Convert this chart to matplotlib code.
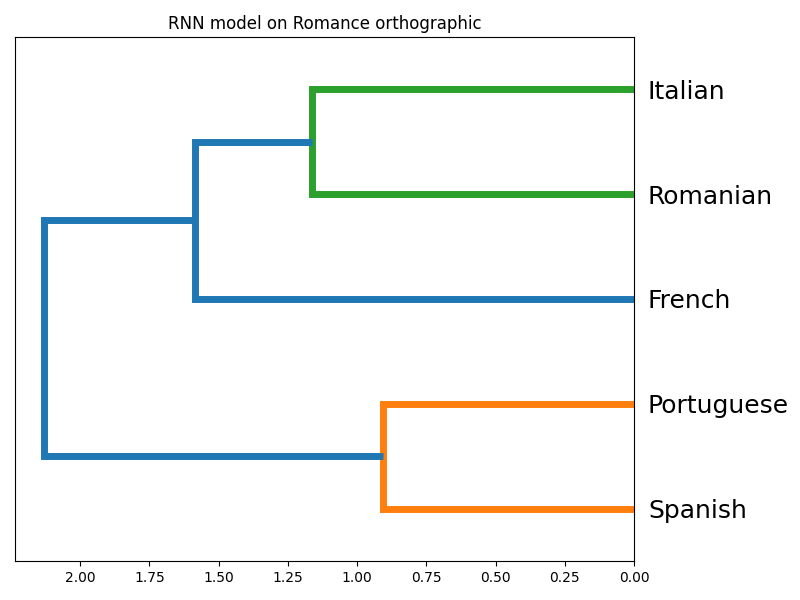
import matplotlib.pyplot as plt

# leaves bottom to top
leaves = ["Spanish", "Portuguese", "French", "Romanian", "Italian"]
leaf_y = [5, 15, 25, 35, 45]

# merges: (left y, left height, right y, right height, merge height, colour)
h_pt_es = 0.906
h_it_ro = 1.162
h_fr = 1.585
h_root = 2.13
merges = [
    (5, 0.0, 15, 0.0, h_pt_es, "C1"),
    (35, 0.0, 45, 0.0, h_it_ro, "C2"),
    (25, 0.0, 40, h_it_ro, h_fr, "C0"),
    (10, h_pt_es, 32.5, h_fr, h_root, "C0"),
]

fig = plt.figure(figsize=(8, 6), dpi=100)
ax = fig.add_axes([15 / 800, 1 - 561 / 600, 619 / 800, 524 / 600])

for y1, x1, y2, x2, h, c in merges:
    ax.plot([x1, h, h, x2], [y1, y1, y2, y2], color=c, lw=5,
            solid_capstyle="butt", solid_joinstyle="miter")

ax.set_xlim(2.235, 0)
ax.set_ylim(0, 50)
ax.yaxis.tick_right()
ax.set_yticks(leaf_y)
ax.set_yticklabels(leaves, fontsize=18)
ax.tick_params(axis="y", length=0, pad=10)
ax.set_title("RNN model on Romance orthographic")

fig.savefig("out.png")
